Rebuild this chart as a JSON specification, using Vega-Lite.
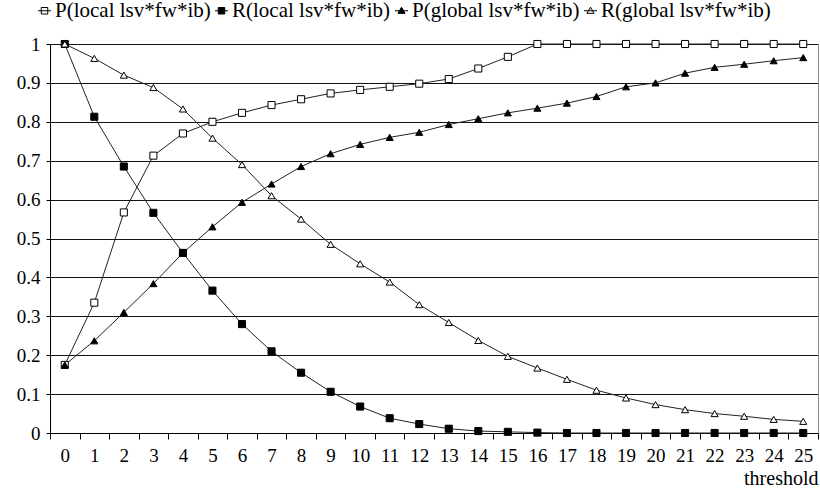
{
  "$schema": "https://vega.github.io/schema/vega-lite/v6.json",
  "width": 768,
  "height": 389,
  "autosize": {"type": "none"},
  "padding": {"left": 50, "top": 44, "right": 2, "bottom": 58},
  "background": "white",
  "config": {
    "view": {"stroke": null}
  },
  "datasets": {
    "pr": [
      {"s": "P(local lsv*fw*ib)", "t": 0, "v": 0.175}, {"s": "P(local lsv*fw*ib)", "t": 1, "v": 0.335}, {"s": "P(local lsv*fw*ib)", "t": 2, "v": 0.567}, {"s": "P(local lsv*fw*ib)", "t": 3, "v": 0.713}, {"s": "P(local lsv*fw*ib)", "t": 4, "v": 0.77}, {"s": "P(local lsv*fw*ib)", "t": 5, "v": 0.8}, {"s": "P(local lsv*fw*ib)", "t": 6, "v": 0.823}, {"s": "P(local lsv*fw*ib)", "t": 7, "v": 0.843}, {"s": "P(local lsv*fw*ib)", "t": 8, "v": 0.858}, {"s": "P(local lsv*fw*ib)", "t": 9, "v": 0.873}, {"s": "P(local lsv*fw*ib)", "t": 10, "v": 0.882}, {"s": "P(local lsv*fw*ib)", "t": 11, "v": 0.89}, {"s": "P(local lsv*fw*ib)", "t": 12, "v": 0.898}, {"s": "P(local lsv*fw*ib)", "t": 13, "v": 0.91}, {"s": "P(local lsv*fw*ib)", "t": 14, "v": 0.937}, {"s": "P(local lsv*fw*ib)", "t": 15, "v": 0.967}, {"s": "P(local lsv*fw*ib)", "t": 16, "v": 1}, {"s": "P(local lsv*fw*ib)", "t": 17, "v": 1}, {"s": "P(local lsv*fw*ib)", "t": 18, "v": 1}, {"s": "P(local lsv*fw*ib)", "t": 19, "v": 1}, {"s": "P(local lsv*fw*ib)", "t": 20, "v": 1}, {"s": "P(local lsv*fw*ib)", "t": 21, "v": 1}, {"s": "P(local lsv*fw*ib)", "t": 22, "v": 1}, {"s": "P(local lsv*fw*ib)", "t": 23, "v": 1}, {"s": "P(local lsv*fw*ib)", "t": 24, "v": 1}, {"s": "P(local lsv*fw*ib)", "t": 25, "v": 1},
      {"s": "R(local lsv*fw*ib)", "t": 0, "v": 1}, {"s": "R(local lsv*fw*ib)", "t": 1, "v": 0.813}, {"s": "R(local lsv*fw*ib)", "t": 2, "v": 0.685}, {"s": "R(local lsv*fw*ib)", "t": 3, "v": 0.566}, {"s": "R(local lsv*fw*ib)", "t": 4, "v": 0.463}, {"s": "R(local lsv*fw*ib)", "t": 5, "v": 0.366}, {"s": "R(local lsv*fw*ib)", "t": 6, "v": 0.28}, {"s": "R(local lsv*fw*ib)", "t": 7, "v": 0.21}, {"s": "R(local lsv*fw*ib)", "t": 8, "v": 0.155}, {"s": "R(local lsv*fw*ib)", "t": 9, "v": 0.106}, {"s": "R(local lsv*fw*ib)", "t": 10, "v": 0.068}, {"s": "R(local lsv*fw*ib)", "t": 11, "v": 0.038}, {"s": "R(local lsv*fw*ib)", "t": 12, "v": 0.023}, {"s": "R(local lsv*fw*ib)", "t": 13, "v": 0.011}, {"s": "R(local lsv*fw*ib)", "t": 14, "v": 0.005}, {"s": "R(local lsv*fw*ib)", "t": 15, "v": 0.003}, {"s": "R(local lsv*fw*ib)", "t": 16, "v": 0.001}, {"s": "R(local lsv*fw*ib)", "t": 17, "v": 0}, {"s": "R(local lsv*fw*ib)", "t": 18, "v": 0}, {"s": "R(local lsv*fw*ib)", "t": 19, "v": 0}, {"s": "R(local lsv*fw*ib)", "t": 20, "v": 0}, {"s": "R(local lsv*fw*ib)", "t": 21, "v": 0}, {"s": "R(local lsv*fw*ib)", "t": 22, "v": 0}, {"s": "R(local lsv*fw*ib)", "t": 23, "v": 0}, {"s": "R(local lsv*fw*ib)", "t": 24, "v": 0}, {"s": "R(local lsv*fw*ib)", "t": 25, "v": 0},
      {"s": "P(global lsv*fw*ib)", "t": 0, "v": 0.175}, {"s": "P(global lsv*fw*ib)", "t": 1, "v": 0.237}, {"s": "P(global lsv*fw*ib)", "t": 2, "v": 0.31}, {"s": "P(global lsv*fw*ib)", "t": 3, "v": 0.384}, {"s": "P(global lsv*fw*ib)", "t": 4, "v": 0.463}, {"s": "P(global lsv*fw*ib)", "t": 5, "v": 0.53}, {"s": "P(global lsv*fw*ib)", "t": 6, "v": 0.593}, {"s": "P(global lsv*fw*ib)", "t": 7, "v": 0.64}, {"s": "P(global lsv*fw*ib)", "t": 8, "v": 0.685}, {"s": "P(global lsv*fw*ib)", "t": 9, "v": 0.718}, {"s": "P(global lsv*fw*ib)", "t": 10, "v": 0.742}, {"s": "P(global lsv*fw*ib)", "t": 11, "v": 0.76}, {"s": "P(global lsv*fw*ib)", "t": 12, "v": 0.773}, {"s": "P(global lsv*fw*ib)", "t": 13, "v": 0.793}, {"s": "P(global lsv*fw*ib)", "t": 14, "v": 0.808}, {"s": "P(global lsv*fw*ib)", "t": 15, "v": 0.823}, {"s": "P(global lsv*fw*ib)", "t": 16, "v": 0.835}, {"s": "P(global lsv*fw*ib)", "t": 17, "v": 0.848}, {"s": "P(global lsv*fw*ib)", "t": 18, "v": 0.865}, {"s": "P(global lsv*fw*ib)", "t": 19, "v": 0.89}, {"s": "P(global lsv*fw*ib)", "t": 20, "v": 0.9}, {"s": "P(global lsv*fw*ib)", "t": 21, "v": 0.925}, {"s": "P(global lsv*fw*ib)", "t": 22, "v": 0.94}, {"s": "P(global lsv*fw*ib)", "t": 23, "v": 0.948}, {"s": "P(global lsv*fw*ib)", "t": 24, "v": 0.957}, {"s": "P(global lsv*fw*ib)", "t": 25, "v": 0.965},
      {"s": "R(global lsv*fw*ib)", "t": 0, "v": 1}, {"s": "R(global lsv*fw*ib)", "t": 1, "v": 0.963}, {"s": "R(global lsv*fw*ib)", "t": 2, "v": 0.92}, {"s": "R(global lsv*fw*ib)", "t": 3, "v": 0.888}, {"s": "R(global lsv*fw*ib)", "t": 4, "v": 0.833}, {"s": "R(global lsv*fw*ib)", "t": 5, "v": 0.758}, {"s": "R(global lsv*fw*ib)", "t": 6, "v": 0.69}, {"s": "R(global lsv*fw*ib)", "t": 7, "v": 0.61}, {"s": "R(global lsv*fw*ib)", "t": 8, "v": 0.55}, {"s": "R(global lsv*fw*ib)", "t": 9, "v": 0.485}, {"s": "R(global lsv*fw*ib)", "t": 10, "v": 0.435}, {"s": "R(global lsv*fw*ib)", "t": 11, "v": 0.388}, {"s": "R(global lsv*fw*ib)", "t": 12, "v": 0.33}, {"s": "R(global lsv*fw*ib)", "t": 13, "v": 0.284}, {"s": "R(global lsv*fw*ib)", "t": 14, "v": 0.238}, {"s": "R(global lsv*fw*ib)", "t": 15, "v": 0.197}, {"s": "R(global lsv*fw*ib)", "t": 16, "v": 0.167}, {"s": "R(global lsv*fw*ib)", "t": 17, "v": 0.138}, {"s": "R(global lsv*fw*ib)", "t": 18, "v": 0.11}, {"s": "R(global lsv*fw*ib)", "t": 19, "v": 0.09}, {"s": "R(global lsv*fw*ib)", "t": 20, "v": 0.073}, {"s": "R(global lsv*fw*ib)", "t": 21, "v": 0.06}, {"s": "R(global lsv*fw*ib)", "t": 22, "v": 0.05}, {"s": "R(global lsv*fw*ib)", "t": 23, "v": 0.043}, {"s": "R(global lsv*fw*ib)", "t": 24, "v": 0.035}, {"s": "R(global lsv*fw*ib)", "t": 25, "v": 0.03}
    ]
  },
  "data": {"name": "pr"},
  "resolve": {"axis": {"y": "independent"}},
  "layer": [
    {
      "mark": {"type": "line", "stroke": "#222", "strokeWidth": 1},
      "encoding": {
        "x": {
          "field": "t", "type": "ordinal",
          "scale": {"paddingInner": 0, "paddingOuter": 0},
          "axis": {
            "title": "threshold", "titleFontSize": 20, "titleFontWeight": "normal", "titleFont": "Liberation Serif", "titleColor": "black",
            "titleAnchor": "end", "titleAlign": "right", "titleBaseline": "alphabetic",
            "titleX": 768, "titleY": 51,
            "labelAngle": 0, "labelFontSize": 19, "labelPadding": 7, "labelFont": "Liberation Serif", "labelColor": "black",
            "tickBand": "extent", "tickSize": 6, "tickColor": "black", "domainColor": "black",
            "labelBaseline": "top"
          }
        },
        "y": {
          "field": "v", "type": "quantitative",
          "scale": {"domain": [0, 1], "nice": false},
          "axis": {
            "title": null, "values": [0, 0.1, 0.2, 0.3, 0.4, 0.5, 0.6, 0.7, 0.8, 0.9, 1],
            "format": "~g", "labelFontSize": 19, "labelPadding": 6, "tickSize": 4, "labelFont": "Liberation Serif", "labelColor": "black",
            "tickColor": "black", "domainColor": "black", "gridColor": "#111", "gridOpacity": 1,
            "grid": true
          }
        },
        "detail": {"field": "s"}
      }
    },
    {
      "transform": [{"filter": "datum.s == 'P(local lsv*fw*ib)'"}],
      "mark": {"type": "point", "shape": "square", "filled": false, "fill": "white", "stroke": "black", "strokeWidth": 1, "opacity": 1, "size": 50},
      "encoding": {
        "x": {"field": "t", "type": "ordinal"},
        "y": {
          "field": "v", "type": "quantitative",
          "axis": {"orient": "right", "title": null, "labels": false, "ticks": false, "grid": false, "domainColor": "#888"}
        }
      }
    },
    {
      "transform": [{"filter": "datum.s == 'R(local lsv*fw*ib)'"}],
      "mark": {"type": "point", "shape": "square", "filled": true, "fill": "black", "stroke": "black", "strokeWidth": 1, "opacity": 1, "size": 50},
      "encoding": {
        "x": {"field": "t", "type": "ordinal"},
        "y": {"field": "v", "type": "quantitative", "axis": null}
      }
    },
    {
      "transform": [{"filter": "datum.s == 'P(global lsv*fw*ib)'"}],
      "mark": {"type": "point", "shape": "triangle-up", "filled": true, "fill": "black", "stroke": "black", "strokeWidth": 1, "opacity": 1, "size": 50},
      "encoding": {
        "x": {"field": "t", "type": "ordinal"},
        "y": {"field": "v", "type": "quantitative", "axis": null}
      }
    },
    {
      "transform": [{"filter": "datum.s == 'R(global lsv*fw*ib)'"}],
      "mark": {"type": "point", "shape": "triangle-up", "filled": false, "fill": "white", "stroke": "black", "strokeWidth": 1, "opacity": 1, "size": 50},
      "encoding": {
        "x": {"field": "t", "type": "ordinal"},
        "y": {"field": "v", "type": "quantitative", "axis": null}
      }
    },
    {
      "mark": {"type": "point", "opacity": 0, "size": 50},
      "encoding": {
        "x": {"field": "t", "type": "ordinal"},
        "y": {"field": "v", "type": "quantitative", "axis": null},
        "shape": {
          "field": "s", "type": "nominal",
          "scale": {"domain": ["P(local lsv*fw*ib)", "R(local lsv*fw*ib)", "P(global lsv*fw*ib)", "R(global lsv*fw*ib)"], "range": ["M-1,0H1M-0.5,-0.5H0.5V0.5H-0.5Z", "M-1,0H1M-0.5,-0.5H0.5V0.5H-0.5Z", "M-1,0H1M0,-0.55L0.55,0.4H-0.55Z", "M-1,0H1M0,-0.55L0.55,0.4H-0.55Z"]},
          "legend": {
            "title": null, "orient": "none", "legendX": -16, "legendY": -44,
            "direction": "horizontal", "columns": 4, "labelFontSize": 21, "labelColor": "black", "labelFont": "Liberation Serif",
            "labelLimit": 300, "labelOffset": 0, "columnPadding": -2, "symbolSize": 169,
            "symbolStrokeColor": "black", "symbolStrokeWidth": 1, "symbolOpacity": 1
          }
        },
        "fill": {
          "field": "s", "type": "nominal",
          "scale": {"domain": ["P(local lsv*fw*ib)", "R(local lsv*fw*ib)", "P(global lsv*fw*ib)", "R(global lsv*fw*ib)"], "range": ["white", "black", "black", "white"]},
          "legend": null
        },
        "stroke": {
          "field": "s", "type": "nominal",
          "scale": {"domain": ["P(local lsv*fw*ib)", "R(local lsv*fw*ib)", "P(global lsv*fw*ib)", "R(global lsv*fw*ib)"], "range": ["black", "black", "black", "black"]},
          "legend": null
        }
      }
    }
  ]
}
